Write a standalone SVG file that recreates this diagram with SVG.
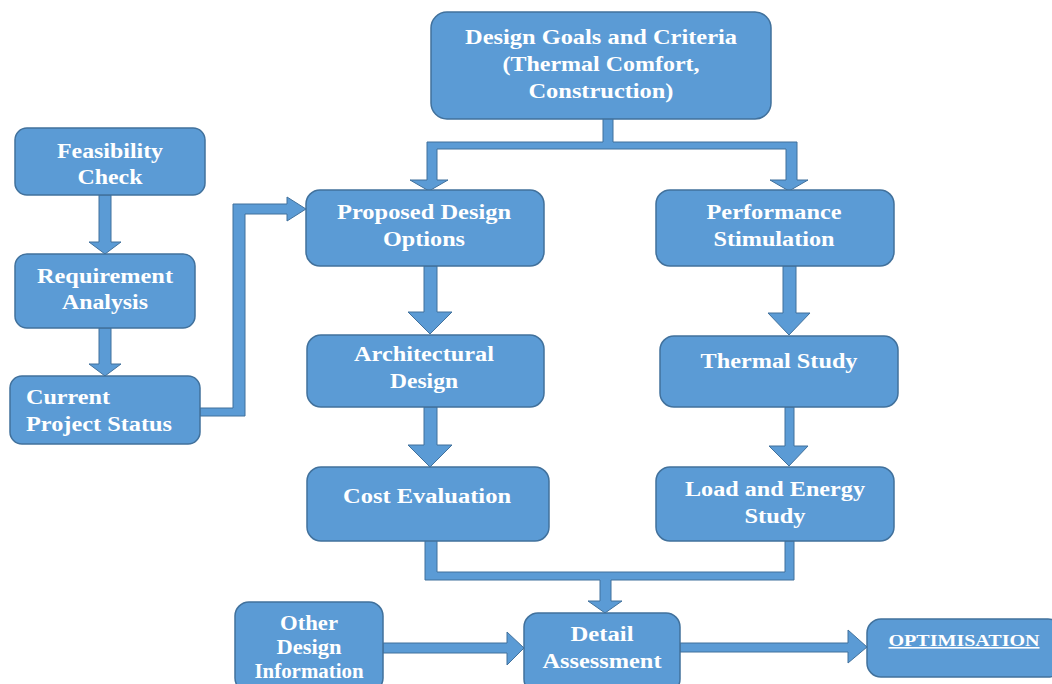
<svg xmlns="http://www.w3.org/2000/svg" width="1052" height="684" viewBox="0 0 1052 684">
<style>
.n{fill:#5B9BD5;stroke:#41719C;stroke-width:1.5}
.c{fill:#5B9BD5;stroke:#41719C;stroke-width:1}
.t{font-family:"Liberation Serif","Times New Roman","DejaVu Serif",serif;font-weight:bold;font-size:20px;fill:#fff;text-anchor:middle}
.l{text-anchor:start}
.u{font-size:16px;text-decoration:underline}
</style>
<rect width="1052" height="684" fill="#fff"/>
<g id="connectors">
<path class="c" d="M603,118 H613 V142 H797 V180 H808 L789,191 L770,180 H786 V149 H437 V180 H448 L429,191 L410,180 H427 V142 H603 Z"/>
<path class="c" d="M99,195 H111 V242 H121 L105,254 L89,242 H99 Z"/>
<path class="c" d="M99,328 H111 V364 H121 L105,376 L89,364 H99 Z"/>
<path class="c" d="M200,408 H233 V204 H287 V197 L306,209 L287,221 V214 H245 V416 H200 Z"/>
<path class="c" d="M424,266 H437 V312 H452 L430,334 L408,312 H424 Z"/>
<path class="c" d="M424,407 H437 V445 H452 L430,467 L408,445 H424 Z"/>
<path class="c" d="M783,266 H796 V313 H810 L789,335 L768,313 H783 Z"/>
<path class="c" d="M785,407 H794 V446 H808 L789,466 L769,446 H785 Z"/>
<path class="c" d="M425,540 H437 V572 H785 V541 H794 V580 H611 V601 H622 L605,613 L588,601 H600 V580 H425 Z"/>
<path class="c" d="M383,643 H507 V632 L524,648 L507,665 V653 H383 Z"/>
<path class="c" d="M680,643 H848 V630 L867,647 L848,663 V652 H680 Z"/>
</g>
<g id="design-goals"><rect class="n" x="431" y="12" width="340" height="107" rx="16"/>
<text class="t" x="601" y="44" textLength="272" lengthAdjust="spacingAndGlyphs">Design Goals and Criteria</text><text class="t" x="601" y="71" textLength="197" lengthAdjust="spacingAndGlyphs">(Thermal Comfort,</text><text class="t" x="601" y="98" textLength="145" lengthAdjust="spacingAndGlyphs">Construction)</text></g>
<g id="feasibility"><rect class="n" x="15" y="128" width="190" height="67" rx="12"/>
<text class="t" x="110" y="158" textLength="106" lengthAdjust="spacingAndGlyphs">Feasibility</text><text class="t" x="110" y="184" textLength="65" lengthAdjust="spacingAndGlyphs">Check</text></g>
<g id="requirement"><rect class="n" x="15" y="254" width="180" height="74" rx="12"/>
<text class="t" x="105" y="283" textLength="136" lengthAdjust="spacingAndGlyphs">Requirement</text><text class="t" x="105" y="309" textLength="86" lengthAdjust="spacingAndGlyphs">Analysis</text></g>
<g id="current"><rect class="n" x="10" y="376" width="190" height="68" rx="12"/>
<text class="t l" x="26" y="404" textLength="84" lengthAdjust="spacingAndGlyphs">Current</text><text class="t l" x="26" y="431" textLength="146" lengthAdjust="spacingAndGlyphs">Project Status</text></g>
<g id="proposed"><rect class="n" x="306" y="190" width="238" height="76" rx="14"/>
<text class="t" x="424" y="219" textLength="174" lengthAdjust="spacingAndGlyphs">Proposed Design</text><text class="t" x="424" y="246" textLength="82" lengthAdjust="spacingAndGlyphs">Options</text></g>
<g id="performance"><rect class="n" x="656" y="190" width="238" height="76" rx="14"/>
<text class="t" x="774" y="219" textLength="135" lengthAdjust="spacingAndGlyphs">Performance</text><text class="t" x="774" y="246" textLength="121" lengthAdjust="spacingAndGlyphs">Stimulation</text></g>
<g id="architectural"><rect class="n" x="307" y="335" width="237" height="72" rx="14"/>
<text class="t" x="424" y="361" textLength="140" lengthAdjust="spacingAndGlyphs">Architectural</text><text class="t" x="424" y="388" textLength="68" lengthAdjust="spacingAndGlyphs">Design</text></g>
<g id="thermal"><rect class="n" x="660" y="336" width="238" height="71" rx="14"/>
<text class="t" x="779" y="368" textLength="157" lengthAdjust="spacingAndGlyphs">Thermal Study</text></g>
<g id="cost"><rect class="n" x="307" y="467" width="242" height="74" rx="14"/>
<text class="t" x="427" y="503" textLength="168" lengthAdjust="spacingAndGlyphs">Cost Evaluation</text></g>
<g id="load"><rect class="n" x="656" y="467" width="238" height="74" rx="14"/>
<text class="t" x="775" y="496" textLength="180" lengthAdjust="spacingAndGlyphs">Load and Energy</text><text class="t" x="775" y="523" textLength="61" lengthAdjust="spacingAndGlyphs">Study</text></g>
<g id="other"><rect class="n" x="235" y="602" width="148" height="90" rx="14"/>
<text class="t" x="309" y="630" textLength="58" lengthAdjust="spacingAndGlyphs">Other</text><text class="t" x="309" y="654" textLength="65" lengthAdjust="spacingAndGlyphs">Design</text><text class="t" x="309" y="678" textLength="109" lengthAdjust="spacingAndGlyphs">Information</text></g>
<g id="detail"><rect class="n" x="524" y="613" width="156" height="80" rx="14"/>
<text class="t" x="602" y="641" textLength="63" lengthAdjust="spacingAndGlyphs">Detail</text><text class="t" x="602" y="668" textLength="119" lengthAdjust="spacingAndGlyphs">Assessment</text></g>
<g id="optimisation"><rect class="n" x="867" y="619" width="195" height="58" rx="14"/>
<text class="t u" x="964" y="646" textLength="151" lengthAdjust="spacingAndGlyphs">OPTIMISATION</text></g>
</svg>
